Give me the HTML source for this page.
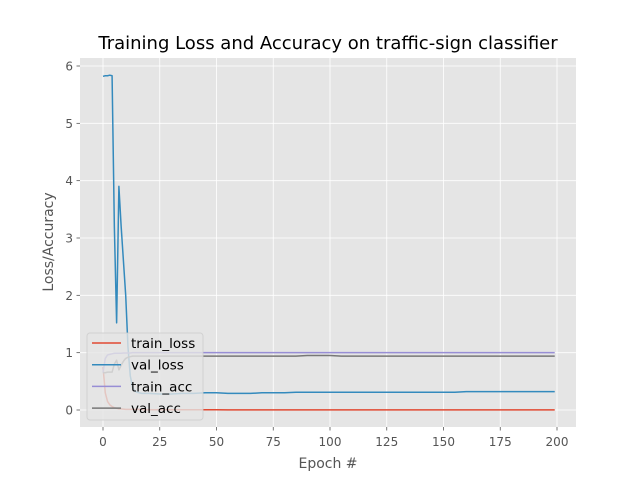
<!DOCTYPE html>
<html><head><meta charset="utf-8"><style>
body{margin:0;background:#fff;}
svg{display:block;font-family:"DejaVu Sans","Liberation Sans",sans-serif;}
</style></head><body>
<svg id="chart" width="640" height="480" viewBox="0 0 640 480">
<rect width="640" height="480" fill="#fff"/>
<rect x="80" y="58" width="496" height="369" fill="#e5e5e5"/>
<g id="grid"></g>
<g id="ticks"></g>
<g id="series"></g>
<text x="328" y="49" font-size="18" text-anchor="middle" fill="#000">Training Loss and Accuracy on traffic-sign classifier</text>
<text x="328" y="468" font-size="14" text-anchor="middle" fill="#555">Epoch #</text>
<text x="0" y="0" font-size="14" text-anchor="middle" fill="#555" transform="translate(53,242) rotate(-90)">Loss/Accuracy</text>
<g id="legend">
<rect x="87" y="333" width="116" height="87" rx="3" fill="#e5e5e5" fill-opacity="0.8" stroke="#ccc" stroke-opacity="0.8"/>
</g>
</svg>
<script>
const epochs=[0,1,2,3,4,5,6,7,8,9,10,11,12,13,14,15,16,17,18,19,20,25,30,35,40,45,50,55,60,65,70,75,80,85,90,95,100,105,110,115,120,125,130,135,140,145,150,155,160,165,170,175,180,185,190,195,199];
const trainLoss=[0.75,0.3,0.15,0.09,0.06,0.04,0.03,0.02,0.02,0.015,0.01,0.01,0.01,0.01,0.01,0.01,0.01,0.01,0.005,0.005,0.005,0.005,0.005,0.005,0.004,0.004,0.004,0.003,0.003,0.003,0.003,0.003,0.003,0.003,0.003,0.003,0.003,0.003,0.003,0.003,0.003,0.003,0.003,0.003,0.003,0.003,0.003,0.003,0.003,0.003,0.003,0.003,0.003,0.003,0.003,0.003,0.003];
const valLoss=[5.82,5.83,5.83,5.84,5.83,3.2,1.52,3.9,3.2,2.6,2.0,1.1,0.6,0.4,0.33,0.31,0.3,0.29,0.29,0.29,0.29,0.28,0.28,0.29,0.29,0.3,0.3,0.29,0.29,0.29,0.3,0.3,0.3,0.31,0.31,0.31,0.31,0.31,0.31,0.31,0.31,0.31,0.31,0.31,0.31,0.31,0.31,0.31,0.32,0.32,0.32,0.32,0.32,0.32,0.32,0.32,0.32];
const trainAcc=[0.65,0.9,0.96,0.97,0.98,0.99,0.99,0.99,0.99,0.995,0.995,0.995,0.995,1,1,1,1,1,1,1,1,1,1,1,1,1,1,1,1,1,1,1,1,1,1,1,1,1,1,1,1,1,1,1,1,1,1,1,1,1,1,1,1,1,1,1,1];
const valAcc=[0.65,0.65,0.66,0.66,0.66,0.8,0.87,0.7,0.78,0.85,0.9,0.92,0.93,0.94,0.94,0.94,0.94,0.94,0.94,0.94,0.94,0.94,0.94,0.94,0.94,0.94,0.94,0.94,0.94,0.94,0.94,0.94,0.94,0.94,0.95,0.95,0.95,0.94,0.94,0.94,0.94,0.94,0.94,0.94,0.94,0.94,0.94,0.94,0.94,0.94,0.94,0.94,0.94,0.94,0.94,0.94,0.94];
const xTicks=[0,25,50,75,100,125,150,175,200];
const yTicks=[0,1,2,3,4,5,6];
const seriesNames=["train_loss","val_loss","train_acc","val_acc"];
const seriesColors=["#E24A33","#348ABD","#988ED5","#777777"];

const NS="http://www.w3.org/2000/svg";
const xs=v=>103+v*(557-103)/200;
const ys=v=>410-v*(410-66)/6;
function mk(tag,attrs,parent){const e=document.createElementNS(NS,tag);for(const k in attrs)e.setAttribute(k,attrs[k]);parent.appendChild(e);return e;}
const grid=document.getElementById('grid'),ticks=document.getElementById('ticks'),ser=document.getElementById('series'),leg=document.getElementById('legend');
xTicks.forEach(t=>{
  const l=mk('line',{x1:xs(t),x2:xs(t),y1:58,y2:427,stroke:'#fff','stroke-width':0.8},grid);
  
  
  mk('line',{x1:xs(t),x2:xs(t),y1:427,y2:430.5,stroke:'#555','stroke-width':0.8},ticks);
  const tx=mk('text',{x:xs(t),y:446,'font-size':12,'text-anchor':'middle',fill:'#555'},ticks);
  tx.textContent=t;
  
  
});
yTicks.forEach(t=>{
  const l=mk('line',{x1:80,x2:576,y1:ys(t),y2:ys(t),stroke:'#fff','stroke-width':0.8},grid);
  
  
  mk('line',{x1:76.5,x2:80,y1:ys(t),y2:ys(t),stroke:'#555','stroke-width':0.8},ticks);
  const tx=mk('text',{x:73,y:ys(t)+4.5,'font-size':12,'text-anchor':'end',fill:'#555'},ticks);
  tx.textContent=t;
  
  
});
[trainLoss,valLoss,trainAcc,valAcc].forEach((arr,i)=>{
  const d=arr.map((v,j)=>(j?'L':'M')+xs(epochs[j]).toFixed(2)+','+ys(v).toFixed(2)).join(' ');
  const p=mk('path',{d:d,fill:'none',stroke:seriesColors[i],'stroke-width':1.5,'stroke-linejoin':'round'},ser);
  
  
});
seriesNames.forEach((n,i)=>{
  const y=343+i*21.7;
  mk('line',{x1:92,x2:121,y1:y,y2:y,stroke:seriesColors[i],'stroke-width':1.5},leg);
  const tx=mk('text',{x:131,y:y+5,'font-size':13.5,fill:'#000'},leg);
  tx.textContent=n;
  
  
});
</script>
</body></html>
